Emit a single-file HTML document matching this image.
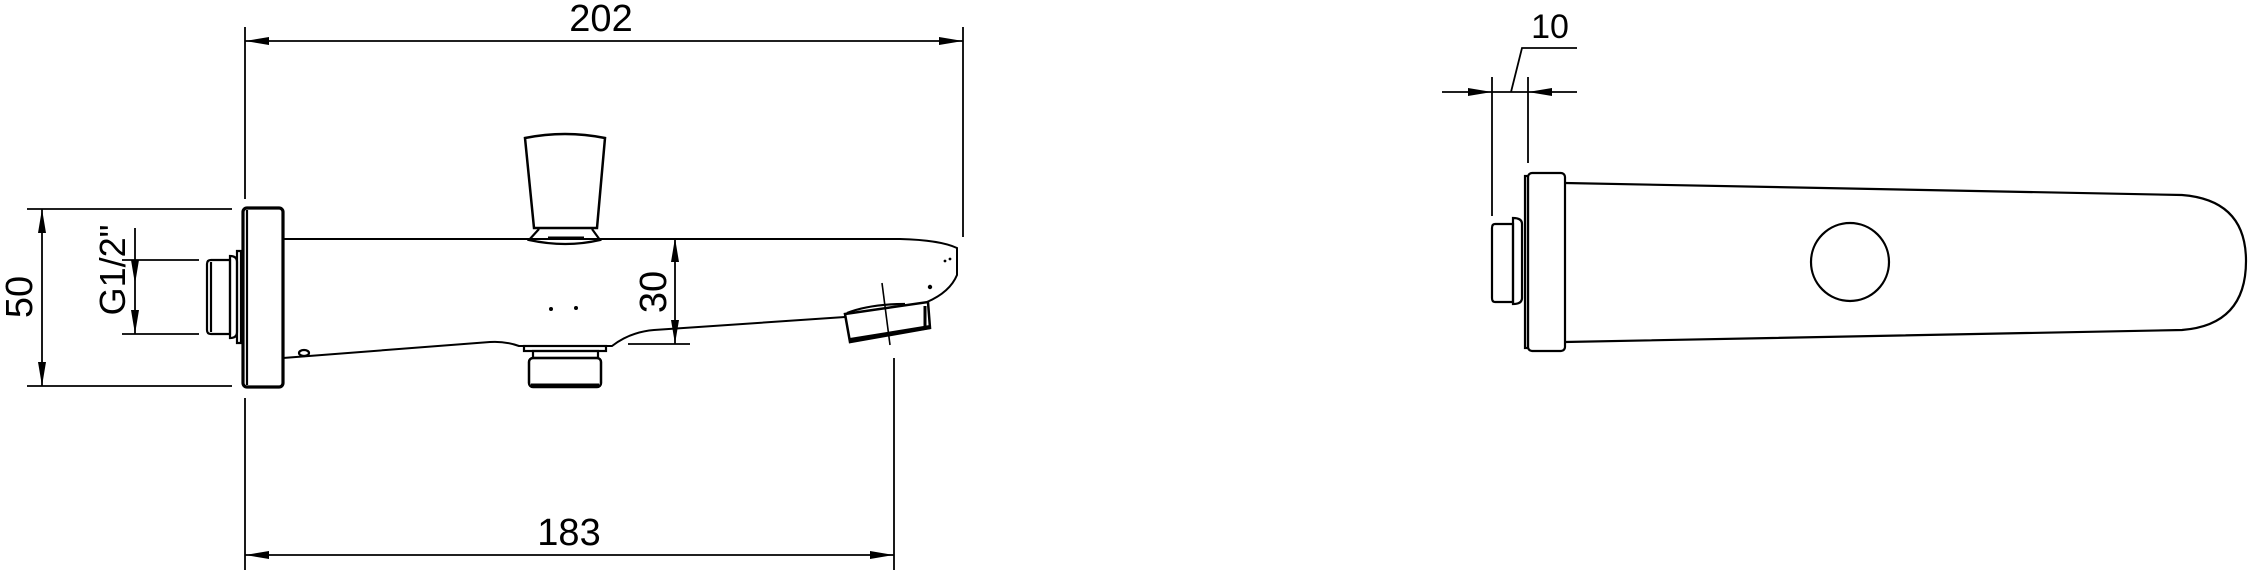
<!DOCTYPE html>
<html><head><meta charset="utf-8"><style>
html,body{margin:0;padding:0;background:#fff;}
svg{display:block;}
text{font-family:"Liberation Sans",sans-serif;fill:#000;}
</style></head><body>
<svg width="2265" height="570" viewBox="0 0 2265 570" xmlns="http://www.w3.org/2000/svg">
<g fill="none" stroke="#000" stroke-width="1.8">
<line x1="245" y1="27" x2="245" y2="199"/>
<line x1="963" y1="27" x2="963" y2="237"/>
<line x1="245" y1="41" x2="963" y2="41"/>
<line x1="245" y1="398" x2="245" y2="570"/>
<line x1="894" y1="358" x2="894" y2="570"/>
<line x1="245" y1="555" x2="894" y2="555"/>
<line x1="27" y1="209" x2="232" y2="209"/>
<line x1="27" y1="386" x2="232" y2="386"/>
<line x1="42" y1="209" x2="42" y2="386"/>
<line x1="122" y1="260" x2="199" y2="260"/>
<line x1="122" y1="334" x2="199" y2="334"/>
<line x1="135" y1="228" x2="135" y2="334"/>
<line x1="675" y1="238" x2="675" y2="344"/>
<line x1="628" y1="344" x2="690" y2="344"/>
</g>
<g fill="#000">
<polygon points="245,41 269,37 269,45"/>
<polygon points="963,41 939,37 939,45"/>
<polygon points="245,555 269,551 269,559"/>
<polygon points="894,555 870,551 870,559"/>
<polygon points="42,209 38,233 46,233"/>
<polygon points="42,386 38,362 46,362"/>
<polygon points="135,284 131,260 139,260" />
<polygon points="135,334 131,310 139,310"/>
<polygon points="675,238 671,262 679,262"/>
<polygon points="675,344 671,320 679,320"/>
</g>
<text x="601" y="31" font-size="38" text-anchor="middle">202</text>
<text x="569" y="545" font-size="38" text-anchor="middle">183</text>
<text transform="translate(32,297) rotate(-90)" font-size="38" text-anchor="middle">50</text>
<text transform="translate(125,270) rotate(-90)" font-size="36" text-anchor="middle">G1/2"</text>
<text transform="translate(666,292) rotate(-90)" font-size="38" text-anchor="middle">30</text>

<g fill="none" stroke="#000" stroke-width="2.2">
<rect x="243" y="208" width="40" height="179" rx="4" stroke-width="3.2"/>
<line x1="247" y1="210" x2="247" y2="385"/>
<path d="M237,251 H241 V343 H237 Z"/>
<path d="M230,256 Q237,256 237,262 V332 Q237,338 230,338 Z"/>
<path d="M211,260 H230 V334 H211 Q207,334 207,330 V264 Q207,260 211,260 Z"/>
<line x1="211" y1="262" x2="211" y2="332"/>
<path d="M283,239 H900 Q940,240 957,248 V275 Q950,292 927,302" stroke-width="2"/>
<path d="M283,358 L490,342 Q505,341 519,346 L612,346 Q630,332 654,330 L845,317" stroke-width="2"/>
<ellipse cx="304" cy="353" rx="5" ry="3"/>
<path d="M525,138 Q565,130 605,138 L597,228 L534,228 Z" stroke-width="2.5"/>
<path d="M539,229 L529,240 Q566,248 600,240 L592,229" stroke-width="2.2"/>
<line x1="548" y1="238" x2="584" y2="238" stroke-width="3"/>
<rect x="524" y="346" width="82" height="5"/>
<rect x="533" y="351" width="65" height="7"/>
<rect x="529" y="358" width="72" height="29" rx="4" stroke-width="2.5"/>
<line x1="531" y1="385" x2="599" y2="385" stroke-width="3"/>
<path d="M845,314 L928,302 L930,328 L850,342 Z" stroke-width="2.5"/>
<line x1="850" y1="340" x2="930" y2="327" stroke-width="4"/>
<path d="M925,306 V326" stroke-width="3"/>
<path d="M847,313 Q870,304 905,304" />
<line x1="882" y1="283" x2="890" y2="345" stroke-width="1.6"/>
</g>
<g fill="#000">
<circle cx="551" cy="309" r="2"/><circle cx="576" cy="308" r="2"/>
<circle cx="950" cy="259" r="1.4"/><circle cx="945" cy="261" r="1.4"/><circle cx="930" cy="287" r="2.2"/>
</g>

<g fill="none" stroke="#000" stroke-width="1.8">
<line x1="1492" y1="77" x2="1492" y2="216"/>
<line x1="1528" y1="77" x2="1528" y2="163"/>
<line x1="1442" y1="92" x2="1577" y2="92"/>
<polyline points="1511,92 1522,48 1577,48"/>
</g>
<g fill="#000">
<polygon points="1492,92 1468,88 1468,96"/>
<polygon points="1528,92 1552,88 1552,96"/>
</g>
<text x="1550" y="38" font-size="34" text-anchor="middle">10</text>
<g fill="none" stroke="#000" stroke-width="2.2">
<rect x="1528" y="173" width="37" height="178" rx="4"/>
<rect x="1525" y="176" width="3" height="172"/>
<path d="M1513,218 Q1522,218 1522,224 V298 Q1522,304 1513,304 Z"/>
<path d="M1495,224 H1513 V302 H1495 Q1492,302 1492,298 V228 Q1492,224 1495,224 Z"/>
<path d="M1565,183 L2182,195 Q2246,200 2246,261 Q2246,325 2182,330 L1565,342"/>
<circle cx="1850" cy="262" r="39"/>
</g>
</svg>
</body></html>
